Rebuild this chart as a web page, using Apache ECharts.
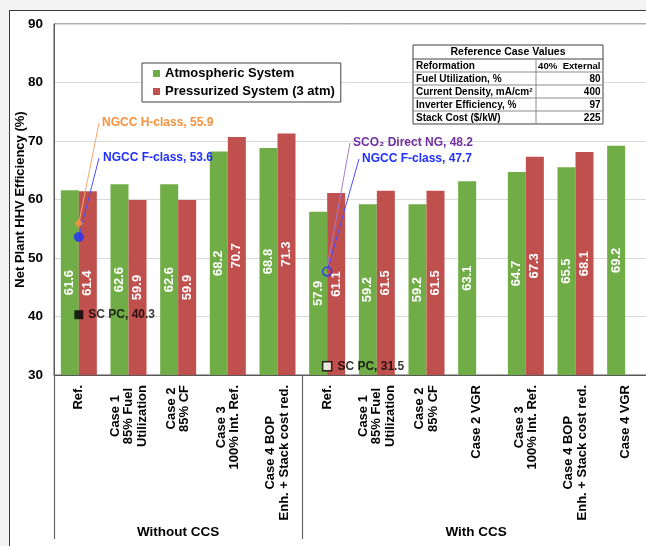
<!DOCTYPE html>
<html><head><meta charset="utf-8">
<script src="https://cdn.jsdelivr.net/npm/echarts/dist/echarts.min.js"></script>
<style>
html,body{margin:0;padding:0;background:#f3f3f3;width:646px;height:546px;overflow:hidden;}
#frame{position:absolute;left:9px;top:10px;width:700px;height:600px;background:#fff;border:1.5px solid #3a3a3a;box-sizing:border-box;}
#chart{position:absolute;left:0;top:0;width:646px;height:546px;}
</style></head><body>
<div id="frame"></div><div id="chart"></div>
<script>
// ---- data ----
const categories = ['Ref.', 'Case 1\n85% Fuel\nUtilization', 'Case 2\n85% CF', 'Case 3\n100% Int. Ref.', 'Case 4 BOP\nEnh. + Stack cost red.',
  'Ref.', 'Case 1\n85% Fuel\nUtilization', 'Case 2\n85% CF', 'Case 2 VGR', 'Case 3\n100% Int. Ref.', 'Case 4 BOP\nEnh. + Stack cost red.', 'Case 4 VGR'];
const groupLabels = ['', '', 'Without CCS', '', '', '', '', '', 'With CCS', '', '', ''];
const groupStarts = [0, 5];
const atmospheric = [61.6, 62.6, 62.6, 68.2, 68.8, 57.9, 59.2, 59.2, 63.1, 64.7, 65.5, 69.2];
const pressurized = [61.4, 59.9, 59.9, 70.7, 71.3, 61.1, 61.5, 61.5, '-', 67.3, 68.1, '-'];
const yMin = 30, yMax = 90, yStep = 10;
const ngccH = [[0, 55.9]];
const ngccF = [[0, 53.6]];
const ngccFccs = [[5, 47.7]];
const sco2 = [[5, 48.2]];
const scpc = [[0, 40.3]];
const scpcCcs = [[5, 31.5]];
const tableTitle = 'Reference Case Values';
const tableRows = [
  ['Reformation', '40%  External'],
  ['Fuel Utilization, %', '80'],
  ['Current Density, mA/cm\u00B2', '400'],
  ['Inverter Efficiency, %', '97'],
  ['Stack Cost ($/kW)', '225']
];

// ---- chart ----
const FONT = '"Liberation Sans", Arial, sans-serif';
const GREEN = '#70ad47', RED = '#c0504d';
const chart = echarts.init(document.getElementById('chart'), null, {renderer: 'canvas'});

function leader(color, from, to) {
  return {silent: true, symbol: ['none', 'none'], label: {show: false},
    lineStyle: {color: color, width: 1, type: 'solid'},
    emphasis: {disabled: true},
    data: [[{coord: from}, {x: to[0], y: to[1]}]]};
}

// table graphic
const tX = 413, tY = 45, tW = 190, colX = 536, headH = 14, rowH = 13;
const tableEls = [];
tableEls.push({type: 'rect', shape: {x: tX, y: tY, width: tW, height: headH + rowH * tableRows.length},
  style: {fill: '#fff', stroke: '#404040', lineWidth: 1}, z: 10});
tableEls.push({type: 'text', x: tX + tW / 2, y: tY + headH / 2 + 0.5, z: 11,
  style: {text: tableTitle, fill: '#000', font: 'bold 10.5px ' + FONT, align: 'center', verticalAlign: 'middle'}});
tableRows.forEach((r, i) => {
  const y0 = tY + headH + i * rowH;
  tableEls.push({type: 'line', shape: {x1: tX, y1: y0, x2: tX + tW, y2: y0},
    style: {stroke: i === 0 ? '#404040' : '#8c8c8c', lineWidth: 1}, z: 11});
  tableEls.push({type: 'text', x: tX + 3, y: y0 + rowH / 2 + 0.5, z: 11,
    style: {text: r[0], fill: '#000', font: 'bold 10px ' + FONT, align: 'left', verticalAlign: 'middle'}});
  tableEls.push({type: 'text', x: tX + tW - 2.5, y: y0 + rowH / 2 + 0.5, z: 11,
    style: {text: r[1], fill: '#000', font: 'bold ' + (i === 0 ? '9.6px ' : '10px ') + FONT, align: 'right', verticalAlign: 'middle'}});
});
tableEls.push({type: 'line', shape: {x1: colX, y1: tY + headH, x2: colX, y2: tY + headH + rowH * tableRows.length},
  style: {stroke: '#8c8c8c', lineWidth: 1}, z: 11});

function note(text, x, y, color) {
  return {type: 'text', x: x, y: y, z: 20,
    style: {text: text, fill: color, font: 'bold 12px ' + FONT, align: 'left', verticalAlign: 'middle'}};
}

const option = {
  animation: false,
  textStyle: {fontFamily: FONT},
  grid: {left: 54, right: -4, top: 24, bottom: 171, show: true, borderColor: '#595959', borderWidth: 1,
    outerBoundsMode: 'none', containLabel: false},
  legend: {
    data: ['Atmospheric System', 'Pressurized System (3 atm)'],
    left: 142, top: 63, orient: 'vertical', itemGap: 5,
    padding: [4, 6, 4, 11], borderColor: '#404040', borderWidth: 1, backgroundColor: '#fff',
    itemWidth: 7, itemHeight: 7, icon: 'rect',
    textStyle: {fontWeight: 'bold', fontSize: 13, color: '#000', fontFamily: FONT}
  },
  xAxis: [{
    type: 'category', data: categories,
    axisLine: {lineStyle: {color: '#595959', width: 1}},
    axisTick: {show: true, length: 164, interval: (i) => groupStarts.indexOf(i) >= 0,
      lineStyle: {color: '#666', width: 1.2}},
    axisLabel: {rotate: 90, interval: 0, margin: 10, color: '#000',
      formatter: (v) => v.split('\n').map(l => '{c|' + l + '}').join('\n'),
      rich: {c: {align: 'center', fontWeight: 'bold', fontSize: 13, lineHeight: 13.5, color: '#000', fontFamily: FONT}}}
  }, {
    type: 'category', data: groupLabels, position: 'bottom', gridIndex: 0,
    axisLine: {show: false}, axisTick: {show: false},
    axisLabel: {interval: 0, margin: 150, color: '#000', fontWeight: 'bold', fontSize: 13.5}
  }],
  yAxis: {
    type: 'value', min: yMin, max: yMax, interval: yStep,
    name: 'Net Plant HHV Efficiency (%)', nameLocation: 'middle', nameGap: 27, nameMoveOverlap: false,
    nameTextStyle: {fontWeight: 'bold', fontSize: 13, color: '#000'},
    axisLine: {show: true, lineStyle: {color: '#595959'}},
    axisTick: {show: false},
    axisLabel: {margin: 11, fontWeight: 'bold', fontSize: 13.5, color: '#000'},
    splitLine: {lineStyle: {color: '#d9d9d9'}}
  },
  series: [
    {name: 'Atmospheric System', type: 'bar', data: atmospheric, barWidth: 18, barGap: '0%',
      itemStyle: {color: GREEN},
      label: {show: true, position: 'inside', rotate: 90, color: '#fff', fontWeight: 'bold', fontSize: 13,
        formatter: (p) => Number(p.value).toFixed(1)}},
    {name: 'Pressurized System (3 atm)', type: 'bar', data: pressurized, barWidth: 18, barGap: '0%',
      itemStyle: {color: RED},
      label: {show: true, position: 'inside', rotate: 90, color: '#fff', fontWeight: 'bold', fontSize: 13,
        formatter: (p) => Number(p.value).toFixed(1)}},
    {name: 'NGCC H-class', type: 'scatter', data: ngccH, symbol: 'diamond', symbolSize: 9, z: 5,
      itemStyle: {color: '#f7913d'}, markLine: leader('#f9a76a', ngccH[0], [99, 123])},
    {name: 'SCO2 Direct NG', type: 'scatter', data: sco2, symbolSize: 0, z: 5,
      itemStyle: {color: '#7030a0'}, markLine: leader('#a57cc8', sco2[0], [350, 143])},
    {name: 'NGCC F-class', type: 'scatter', data: ngccF, symbol: 'circle', symbolSize: 10, z: 6,
      itemStyle: {color: '#1f2fff'}, markLine: leader('#4d4dff', ngccF[0], [99, 158])},
    {name: 'NGCC F-class CCS', type: 'scatter', data: ngccFccs, symbol: 'circle', symbolSize: 9, z: 6,
      itemStyle: {color: 'rgba(0,0,0,0)', borderColor: '#2030ff', borderWidth: 1.5},
      markLine: leader('#4d4dff', ngccFccs[0], [359, 159])},
    {name: 'SC PC', type: 'scatter', data: scpc, symbol: 'rect', symbolSize: 9, z: 6,
      itemStyle: {color: '#000'},
      label: {show: true, position: 'right', distance: 5, color: '#000', fontWeight: 'bold', fontSize: 12,
        formatter: (p) => 'SC PC, ' + p.value[1].toFixed(1)}},
    {name: 'SC PC CCS', type: 'scatter', data: scpcCcs, symbol: 'rect', symbolSize: 9, z: 6,
      itemStyle: {color: '#fff', borderColor: '#000', borderWidth: 1.5},
      label: {show: true, position: 'right', distance: 5, color: '#000', fontWeight: 'bold', fontSize: 12,
        formatter: (p) => 'SC PC, ' + p.value[1].toFixed(1)}}
  ],
  graphic: tableEls.concat([
    note('NGCC H-class, ' + ngccH[0][1].toFixed(1), 102, 123, '#f7913d'),
    note('NGCC F-class, ' + ngccF[0][1].toFixed(1), 103, 158, '#1f2fff'),
    note('SCO\u2082 Direct NG, ' + sco2[0][1].toFixed(1), 353, 143, '#7030a0'),
    note('NGCC F-class, ' + ngccFccs[0][1].toFixed(1), 362, 159, '#1f2fff')
  ])
};
chart.setOption(option);
</script>
</body></html>
